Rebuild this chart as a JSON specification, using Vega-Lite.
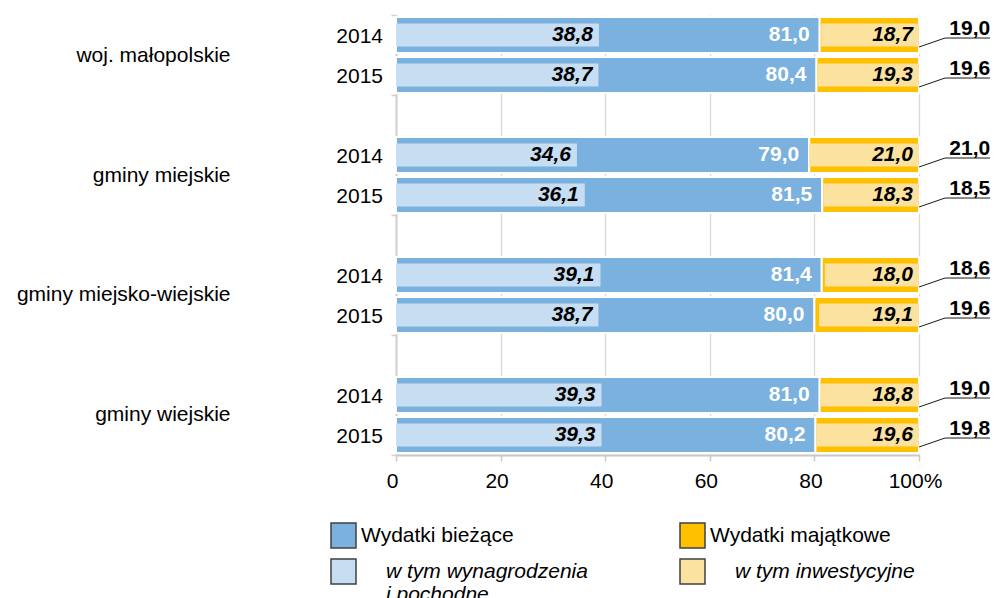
{
  "$schema": "https://vega.github.io/schema/vega-lite/v6.json",
  "width": 523,
  "height": 440,
  "autosize": {"type": "none"},
  "padding": {"left": 396, "top": 15, "right": 79, "bottom": 143},
  "config": {
    "font": "Liberation Sans",
    "view": {"stroke": null},
    "text": {"fontSize": 21, "color": "black"},
    "locale": {"number": {"decimal": ",", "thousands": "\u00a0", "grouping": [3], "currency": ["", "\u00a0zł"]}}
  },
  "data": {
    "values": [
      {"group": "woj. małopolskie", "year": "2014", "biezace": 81.0, "wynagrodzenia": 38.8, "majatkowe": 19.0, "inwestycyjne": 18.7},
      {"group": "woj. małopolskie", "year": "2015", "biezace": 80.4, "wynagrodzenia": 38.7, "majatkowe": 19.6, "inwestycyjne": 19.3},
      {"group": "gminy miejskie", "year": "2014", "biezace": 79.0, "wynagrodzenia": 34.6, "majatkowe": 21.0, "inwestycyjne": 21.0},
      {"group": "gminy miejskie", "year": "2015", "biezace": 81.5, "wynagrodzenia": 36.1, "majatkowe": 18.5, "inwestycyjne": 18.3},
      {"group": "gminy miejsko-wiejskie", "year": "2014", "biezace": 81.4, "wynagrodzenia": 39.1, "majatkowe": 18.6, "inwestycyjne": 18.0},
      {"group": "gminy miejsko-wiejskie", "year": "2015", "biezace": 80.0, "wynagrodzenia": 38.7, "majatkowe": 19.6, "inwestycyjne": 19.1},
      {"group": "gminy wiejskie", "year": "2014", "biezace": 81.0, "wynagrodzenia": 39.3, "majatkowe": 19.0, "inwestycyjne": 18.8},
      {"group": "gminy wiejskie", "year": "2015", "biezace": 80.2, "wynagrodzenia": 39.3, "majatkowe": 19.8, "inwestycyjne": 19.6}
    ]
  },
  "encoding": {
    "y": {
      "field": "group", "type": "nominal",
      "sort": ["woj. małopolskie", "gminy miejskie", "gminy miejsko-wiejskie", "gminy wiejskie"],
      "scale": {"paddingInner": 0.33333, "paddingOuter": 0},
      "axis": {
        "title": null, "labelFontSize": 21, "labelColor": "black", "labelAlign": "right",
        "labelPadding": 161, "labelLimit": 300, "tickBand": "extent", "tickSize": 5,
        "tickColor": "#D0D0D0", "tickWidth": 1.5, "domainColor": "#D0D0D0", "domainWidth": 2, "grid": false
      }
    },
    "yOffset": {"field": "year", "type": "nominal", "scale": {"paddingInner": 0.1, "paddingOuter": 0.05}}
  },
  "layer": [
    {
      "layer": [
        {
          "mark": {"type": "bar", "stroke": "white", "strokeWidth": 2},
          "encoding": {
            "x": {
              "field": "biezace", "type": "quantitative", "title": null, "scale": {"domain": [0, 100]},
              "axis": {
                "title": null, "values": [0, 20, 40, 60, 80, 100],
                "labelExpr": "datum.value == 100 ? '100%' : datum.label",
                "labelFlush": false, "labelOffset": -4,
                "labelFontSize": 21, "labelColor": "black", "labelPadding": 9,
                "tickSize": 6, "tickColor": "#C8C8C8", "tickWidth": 1.5,
                "domainColor": "#C8C8C8", "domainWidth": 2,
                "grid": true, "gridColor": "#D9D9D9", "gridWidth": 1.3
              }
            },
            "color": {
              "datum": "Wydatki bieżące", "type": "nominal",
              "scale": {
                "domain": ["Wydatki bieżące", "w tym wynagrodzenia i pochodne", "Wydatki majątkowe", "w tym inwestycyjne"],
                "range": ["#7AB1DF", "#C7DEF2", "#FFC000", "#FBE29F"]
              },
              "legend": {
                "title": null, "orient": "none", "legendX": -66, "legendY": 507,
                "columns": 2, "symbolType": "square", "symbolSize": 625,
                "symbolStrokeColor": "#404040", "symbolStrokeWidth": 1.5,
                "labelFontSize": 21, "labelColor": "black", "labelLimit": 400,
                "labelOffset": 4, "rowPadding": 5, "columnPadding": 89, "padding": 0,
                "labelExpr": "datum.label == 'w tym wynagrodzenia i pochodne' ? ['w tym wynagrodzenia', 'i pochodne'] : datum.label",
                "encode": {
                  "labels": {
                    "update": {
                      "fontStyle": {"signal": "indexof(datum.value, 'w tym') === 0 ? 'italic' : 'normal'"},
                      "dx": {"signal": "indexof(datum.value, 'w tym') === 0 ? 25 : 0"}
                    }
                  }
                }
              }
            }
          }
        },
        {
          "mark": {"type": "bar", "stroke": "white", "strokeWidth": 2},
          "encoding": {
            "x": {"field": "biezace", "type": "quantitative", "title": null},
            "x2": {"datum": 100},
            "color": {"datum": "Wydatki majątkowe", "type": "nominal"}
          }
        },
        {
          "mark": {"type": "bar", "size": 23},
          "encoding": {
            "x": {"field": "wynagrodzenia", "type": "quantitative", "title": null},
            "color": {"datum": "w tym wynagrodzenia i pochodne", "type": "nominal"}
          }
        }
      ]
    },
    {
      "mark": {"type": "bar", "size": 23},
      "encoding": {
        "x": {"field": "inwestycyjne", "type": "quantitative", "scale": {"domain": [0, 100], "reverse": true}, "axis": null},
        "color": {"datum": "w tym inwestycyjne", "type": "nominal"}
      }
    },
    {
      "layer": [
        {
          "mark": {"type": "text", "align": "right", "dx": -6, "fontWeight": "bold", "fontStyle": "italic", "color": "black"},
          "encoding": {
            "x": {"field": "wynagrodzenia", "type": "quantitative", "scale": {"domain": [0, 100]}, "axis": null},
            "text": {"field": "wynagrodzenia", "type": "quantitative", "format": ".1f"}
          }
        },
        {
          "mark": {"type": "text", "align": "right", "dx": -10, "fontWeight": "bold", "color": "white"},
          "encoding": {
            "x": {"field": "biezace", "type": "quantitative", "axis": null},
            "text": {"field": "biezace", "type": "quantitative", "format": ".1f"}
          }
        },
        {
          "mark": {"type": "text", "align": "right", "dx": -6, "fontWeight": "bold", "fontStyle": "italic", "color": "black"},
          "encoding": {
            "x": {"datum": 100, "type": "quantitative", "axis": null},
            "text": {"field": "inwestycyjne", "type": "quantitative", "format": ".1f"}
          }
        },
        {
          "mark": {"type": "text", "align": "right", "dx": -13, "dy": 2, "color": "black"},
          "encoding": {
            "x": {"datum": 0, "type": "quantitative", "axis": null},
            "text": {"field": "year", "type": "nominal"}
          }
        },
        {
          "mark": {"type": "point", "filled": false, "opacity": 1, "stroke": "#1A1A1A", "strokeWidth": 1,
                   "size": 5041, "shape": "M-1,0.338L-0.268,0.085L1,0.085"},
          "encoding": {
            "x": {"datum": 106.8, "type": "quantitative", "axis": null}
          }
        },
        {
          "mark": {"type": "text", "align": "left", "baseline": "alphabetic", "dy": 0, "fontWeight": "bold", "color": "black"},
          "encoding": {
            "x": {"datum": 105.8, "type": "quantitative", "axis": null},
            "text": {"field": "majatkowe", "type": "quantitative", "format": ".1f"}
          }
        }
      ]
    }
  ],
  "resolve": {"scale": {"x": "independent"}}
}
